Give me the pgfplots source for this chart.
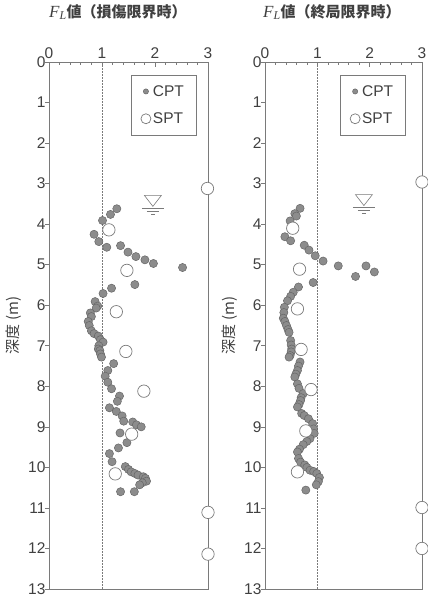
\documentclass[border=0pt]{standalone}
\usepackage{fontspec}
\setmainfont{Liberation Sans}
\newfontfamily\jp{Noto Sans CJK JP}
\newfontfamily\tms{Liberation Serif}
\usepackage{pgfplots}
\usepackage{pgfplotstable}
\pgfplotsset{compat=1.18}
\definecolor{txt}{HTML}{404040}
\definecolor{axc}{HTML}{7A7A7A}
\definecolor{cptfill}{HTML}{8C8C8C}
\definecolor{cptedge}{HTML}{666666}

% left panel: damage limit
\pgfplotstableread{
x y
1.28 3.62
1.16 3.76
1.01 3.91
0.85 4.25
0.94 4.43
1.09 4.57
1.35 4.53
1.49 4.69
1.64 4.80
1.81 4.88
1.97 4.97
2.52 5.07
1.62 5.49
1.18 5.58
1.02 5.71
0.87 5.91
0.92 6.02
0.89 6.07
0.78 6.19
0.80 6.28
0.74 6.40
0.76 6.50
0.80 6.63
0.85 6.70
0.93 6.76
0.97 6.85
1.02 6.91
0.94 7.00
0.93 7.08
0.96 7.12
0.97 7.20
0.99 7.28
1.22 7.44
1.11 7.61
1.06 7.75
1.11 7.90
1.18 8.06
1.33 8.24
1.29 8.37
1.14 8.53
1.27 8.62
1.38 8.73
1.41 8.86
1.58 8.88
1.65 8.95
1.74 9.00
1.34 9.15
1.47 9.39
1.31 9.52
1.14 9.66
1.19 9.86
1.44 9.98
1.50 10.05
1.55 10.11
1.62 10.15
1.68 10.19
1.78 10.23
1.82 10.27
1.84 10.34
1.76 10.38
1.71 10.43
1.61 10.60
1.35 10.60
}\cptA
\pgfplotstableread{
x y
2.99 3.12
1.13 4.14
1.47 5.14
1.27 6.16
1.45 7.14
1.79 8.12
1.56 9.18
1.25 10.16
3.00 11.11
3.00 12.14
}\sptA
% right panel: ultimate limit
\pgfplotstableread{
x y
0.67 3.61
0.57 3.74
0.60 3.80
0.48 3.92
0.38 4.31
0.49 4.41
0.75 4.52
0.84 4.64
0.96 4.78
1.11 4.91
1.40 5.03
1.73 5.29
1.93 5.03
2.09 5.18
0.92 5.44
0.64 5.55
0.54 5.68
0.49 5.78
0.43 5.89
0.37 6.05
0.36 6.18
0.35 6.32
0.38 6.40
0.41 6.50
0.44 6.60
0.46 6.67
0.49 6.87
0.50 6.98
0.51 7.08
0.50 7.15
0.48 7.24
0.46 7.28
0.67 7.40
0.64 7.50
0.62 7.61
0.59 7.70
0.57 7.77
0.62 7.94
0.65 8.05
0.73 8.18
0.69 8.28
0.68 8.35
0.65 8.45
0.62 8.51
0.70 8.67
0.75 8.72
0.83 8.80
0.91 8.92
0.93 9.05
0.94 9.16
0.86 9.29
0.80 9.36
0.73 9.44
0.66 9.55
0.62 9.62
0.64 9.78
0.68 9.87
0.76 9.94
0.80 10.00
0.86 10.07
0.93 10.10
0.99 10.15
1.04 10.25
1.02 10.35
0.98 10.43
0.78 10.56
}\cptB
\pgfplotstableread{
x y
3.00 2.96
0.53 4.10
0.66 5.11
0.62 6.09
0.69 7.09
0.88 8.08
0.78 9.10
0.62 10.11
3.00 10.99
3.00 12.00
}\sptB

\pgfplotsset{
  flpanel/.style={
    scale only axis, width=159pt, height=527pt,
    xmin=0, xmax=3, ymin=0, ymax=13, y dir=reverse,
    xtick={0,1,2,3}, minor x tick num=4, ytick={0,1,...,13},
    xtick pos=right, xticklabel pos=right, ytick pos=left,
    tick align=inside, major tick length=5pt, minor tick length=3pt,
    every major y tick/.append style={xshift=-4pt},
    axis line style={axc, line width=0.8pt},
    tick style={axc, line width=0.6pt},
    /pgf/number format/assume math mode=true,
    ticklabel style={font=\fontsize{15.5}{16}\selectfont, text=txt},
    ylabel={\jp 深度 (m)},
    ylabel style={font=\fontsize{15}{16}\selectfont, text=txt},
    title style={at={(axis description cs:0,1)}, anchor=base west, inner sep=0pt,
      yshift=39pt, font=\fontsize{15}{16}\selectfont, text=txt},
    legend cell align=left,
    legend style={draw=axc, line width=0.6pt, font=\fontsize{15.5}{16}\selectfont,
      text=txt, inner xsep=10pt, inner ysep=8pt, row sep=11pt, anchor=north west},
  },
  cpt/.style={only marks, mark=*, mark size=4.1pt,
    mark options={fill=cptfill, draw=cptedge, line width=0.5pt},
    legend image code/.code={\draw[mark=*, mark size=2.6pt, mark options={fill=cptfill, draw=cptedge, line width=0.5pt}] plot coordinates {(0.25cm,0cm)};}},
  spt/.style={only marks, mark=*, mark size=6.2pt,
    mark options={fill=white, draw=axc, line width=0.7pt},
    legend image code/.code={\draw[mark=*, mark size=5pt, mark options={fill=white, draw=axc, line width=0.7pt}] plot coordinates {(0.25cm,0cm)};}},
}

\begin{document}
\begin{tikzpicture}
\useasboundingbox (-49pt,-9pt) rectangle (379pt,589pt);

\begin{axis}[flpanel, at={(0pt,0pt)}, anchor=south west,
  title={{\tms\itshape\fontsize{17}{18}\selectfont F\textsubscript{L}}{\jp\bfseries 値（損傷限界時）}},
  legend style={at={(axis cs:1.54,0.32)}}]
\draw[axc, line width=0.6pt, dash pattern=on 1.5pt off 1.5pt] (axis cs:1,0) -- (axis cs:1,13);
\addplot[cpt] table {\cptA};
\addlegendentry{CPT}
\addplot[spt] table {\sptA};
\addlegendentry{SPT}
\draw[axc, line width=0.6pt] (axis cs:1.96,3.29) ++(-8.5pt,0) -- ++(17pt,0) -- ++(-8.5pt,-11pt) -- cycle;
\draw[axc, line width=0.6pt] (axis cs:1.96,3.29) ++(-11pt,-13pt) -- ++(22pt,0);
\draw[axc, line width=0.6pt] (axis cs:1.96,3.29) ++(-6pt,-16pt) -- ++(12pt,0);
\draw[axc, line width=0.6pt] (axis cs:1.96,3.29) ++(-2pt,-19pt) -- ++(4pt,0);
\end{axis}

\begin{axis}[flpanel, at={(216pt,0pt)}, anchor=south west, width=157pt,
  title={{\tms\itshape\fontsize{17}{18}\selectfont F\textsubscript{L}}{\jp\bfseries 値（終局限界時）}},
  title style={xshift=-2pt},
  legend style={at={(axis cs:1.43,0.32)}}]
\draw[axc, line width=0.6pt, dash pattern=on 1.5pt off 1.5pt] (axis cs:1,0) -- (axis cs:1,13);
\addplot[cpt] table {\cptB};
\addlegendentry{CPT}
\addplot[spt] table {\sptB};
\addlegendentry{SPT}
\draw[axc, line width=0.6pt] (axis cs:1.89,3.27) ++(-8.5pt,0) -- ++(17pt,0) -- ++(-8.5pt,-11pt) -- cycle;
\draw[axc, line width=0.6pt] (axis cs:1.89,3.27) ++(-11pt,-13pt) -- ++(22pt,0);
\draw[axc, line width=0.6pt] (axis cs:1.89,3.27) ++(-6pt,-16pt) -- ++(12pt,0);
\draw[axc, line width=0.6pt] (axis cs:1.89,3.27) ++(-2pt,-19pt) -- ++(4pt,0);
\end{axis}
\end{tikzpicture}
\end{document}
